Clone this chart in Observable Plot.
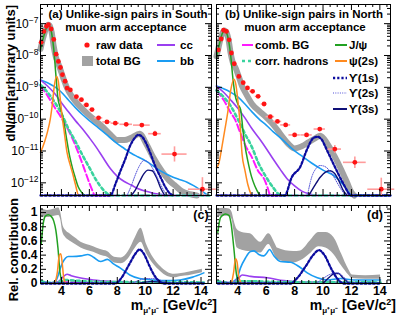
<!DOCTYPE html>
<html><head><meta charset="utf-8">
<script src="https://cdn.jsdelivr.net/npm/d3@7"></script>
<script src="https://cdn.jsdelivr.net/npm/@observablehq/plot@0.6"></script>
<style>
body{margin:0;background:#fff;}
#chart{position:relative;width:399px;height:318px;overflow:hidden;background:#fff;}
#chart svg{position:absolute;left:0;top:0;}
</style></head>
<body><div id="chart"></div>
<script>
// ---------------- DATA ----------------
// raw data, South arm (panel a)
const southMass  = [2.55,2.74,2.93,3.07,3.26,3.45,3.62,3.78,3.93,4.07,4.26,4.4,4.64,5.07,5.43,5.79,6.19,6.66,7.26,7.86,8.64,9.76,10.7,12.1,14.1];
const southYield = [2.6e-8,5.7e-8,8.3e-8,9.3e-8,6.8e-8,3.2e-8,1.1e-8,6.5e-9,4.2e-9,2.5e-9,1.55e-9,9.5e-10,8.3e-10,5.1e-10,4.1e-10,2.8e-10,2.0e-10,1.1e-10,8.2e-11,7.5e-11,6.9e-11,6.5e-11,3.5e-11,8e-12,6.3e-13];
const southBinHalf = [0.1,0.1,0.1,0.1,0.1,0.1,0.1,0.1,0.1,0.1,0.1,0.12,0.15,0.2,0.2,0.2,0.2,0.3,0.3,0.3,0.45,0.6,0.45,0.9,1.0];
const southErrLo = [2.5e-8,5.6e-8,8.2e-8,9.2e-8,6.7e-8,3.1e-8,1.05e-8,6.2e-9,4e-9,2.4e-9,1.5e-9,9.2e-10,8e-10,4.9e-10,3.9e-10,2.65e-10,1.9e-10,1.0e-10,7.5e-11,6.8e-11,6.2e-11,5.8e-11,2.9e-11,4.5e-12,1e-13];
const southErrHi = [2.7e-8,5.8e-8,8.4e-8,9.4e-8,6.9e-8,3.3e-8,1.15e-8,6.8e-9,4.4e-9,2.6e-9,1.6e-9,9.8e-10,8.6e-10,5.3e-10,4.3e-10,2.95e-10,2.1e-10,1.2e-10,8.9e-11,8.2e-11,7.6e-11,7.2e-11,4.2e-11,1.35e-11,1.45e-12];
// raw data, North arm (panel b)
const northMass  = [2.63,2.83,3.0,3.2,3.39,3.55,3.75,4.07,4.38,4.68,5.04,5.43,5.85,6.29,6.79,7.37,8.0,8.84,9.77,10.83,12.24,14.1];
const northYield = [1.5e-8,3.3e-8,6.2e-8,5.7e-8,3.1e-8,1.2e-8,5.5e-9,2.2e-9,1.4e-9,9.6e-10,7.5e-10,5.2e-10,3.0e-10,1.2e-10,8.5e-11,6.6e-11,3.2e-11,3.2e-11,4.9e-11,1.15e-11,4.4e-12,6.3e-13];
const northBinHalf = [0.1,0.1,0.1,0.1,0.1,0.1,0.1,0.15,0.15,0.15,0.2,0.2,0.2,0.3,0.3,0.35,0.4,0.4,0.4,0.47,0.8,0.95];
const northErrLo = [1.45e-8,3.2e-8,6.1e-8,5.6e-8,3.0e-8,1.15e-8,5.2e-9,2.1e-9,1.33e-9,9.1e-10,7.1e-10,4.9e-10,2.8e-10,1.1e-10,7.8e-11,6e-11,2.8e-11,2.8e-11,4.4e-11,8.5e-12,2.8e-12,1e-13];
const northErrHi = [1.55e-8,3.4e-8,6.3e-8,5.8e-8,3.2e-8,1.25e-8,5.8e-9,2.3e-9,1.47e-9,1.0e-9,7.9e-10,5.5e-10,3.2e-10,1.3e-10,9.2e-11,7.2e-11,3.6e-11,3.6e-11,5.4e-11,1.5e-11,6.5e-12,1.4e-12];

// fitted components, South (panel a)  [mass, dN/dm]
const bgSouth   = [[2.5,1.6e-8],[2.6,2.5e-8],[2.75,4.4e-8],[2.9,7.2e-8],[3.05,9.2e-8],[3.15,8.8e-8],[3.3,5.3e-8],[3.45,1.9e-8],[3.6,9e-9],[3.8,5.2e-9],[4.0,2.9e-9],[4.2,1.6e-9],[4.4,9.5e-10],[4.6,6.5e-10],[5.0,3.6e-10],[5.5,2.1e-10],[6.0,1.3e-10],[6.5,8.5e-11],[7.0,5.5e-11],[7.5,3.3e-11],[8.0,2.2e-11],[8.5,2.2e-11],[9.0,2.6e-11],[9.6,3.5e-11],[10.1,1.6e-11],[10.6,6e-12],[11.2,2.3e-12],[11.7,1.2e-12],[12.1,8.5e-13],[12.6,5.5e-13],[13.2,4.4e-13],[13.7,4e-13]];
const jpsiSouth = [[2.5,1.5e-8],[2.6,2.4e-8],[2.75,4.3e-8],[2.9,7e-8],[3.05,9e-8],[3.15,8.5e-8],[3.3,5e-8],[3.45,1.6e-8],[3.6,2.5e-9],[3.75,4.5e-10],[3.9,2.4e-10],[4.05,1.4e-10],[4.2,7e-11],[4.4,2e-11],[4.6,6.5e-12],[4.8,2.8e-12],[5.0,1.4e-12],[5.2,7.5e-13],[5.45,5e-13],[5.7,3e-13]];
const psi2sSouth = [[2.5,9e-12],[2.8,2e-11],[3.0,4e-11],[3.2,1e-10],[3.35,3e-10],[3.5,1.2e-9],[3.65,2.2e-9],[3.78,1.5e-9],[3.9,5e-10],[4.05,1.2e-10],[4.2,4e-11],[4.4,9e-12],[4.6,4e-12],[4.8,2e-12],[5.0,9e-13],[5.24,4e-13],[5.4,3e-13]];
const bbSouth   = [[2.5,1.7e-9],[3.0,1.4e-9],[3.5,1.05e-9],[4.0,7e-10],[4.5,4e-10],[5.0,2.3e-10],[5.5,1.4e-10],[6.0,9e-11],[6.5,6e-11],[7.0,4e-11],[7.5,2.6e-11],[8.0,1.7e-11],[8.5,1.2e-11],[9.0,8.5e-12],[9.5,6.5e-12],[10.0,5e-12],[10.5,3.6e-12],[11.0,2.5e-12],[11.5,1.9e-12],[12.0,1.5e-12],[12.5,1.25e-12],[13.0,1.05e-12],[13.5,8e-13],[14.0,5.8e-13],[14.4,4.3e-13]];
const ccSouth   = [[2.5,1.7e-9],[3.0,1.1e-9],[3.5,6.5e-10],[4.0,3.3e-10],[4.5,1.7e-10],[5.0,9e-11],[5.5,5e-11],[6.0,2.6e-11],[6.5,1.3e-11],[7.0,6e-12],[7.5,2.8e-12],[8.0,1.6e-12],[8.5,1.1e-12],[9.0,8.5e-13],[9.5,6.5e-13],[10.0,5.5e-13],[10.5,4.8e-13],[11.0,4.4e-13],[11.5,4.1e-13],[12,3e-13]];
const hadSouth  = [[2.5,1.2e-9],[3.0,7e-10],[3.5,3.5e-10],[4.0,1.5e-10],[4.5,5e-11],[5.0,2e-11],[5.5,7.5e-12],[6.0,3e-12],[6.5,1.2e-12],[7.0,6e-13],[7.3,4.5e-13],[7.6,3.5e-13],[14.75,3e-13]];
const combSouth = [[2.5,1.1e-9],[3.0,5.5e-10],[3.5,2.4e-10],[4.0,1.1e-10],[4.5,4.5e-11],[5.0,1.5e-11],[5.5,4e-12],[6.0,1e-12],[6.2,6e-13],[6.4,3.5e-13],[14.75,3e-13]];
const ups1South = [[2.5,3e-13],[7.5,3.5e-13],[7.9,1e-12],[8.2,2.2e-12],[8.6,6e-12],[8.9,1.4e-11],[9.2,2.4e-11],[9.5,3.2e-11],[9.7,3e-11],[10.0,2e-11],[10.36,8.7e-12],[10.7,3.5e-12],[11.07,1.6e-12],[11.4,8e-13],[11.8,4.5e-13],[12.0,3e-13]];
const ups2South = [[8.7,3e-13],[9.0,8e-13],[9.3,1.8e-12],[9.6,3.5e-12],[9.9,5e-12],[10.2,4.5e-12],[10.5,3e-12],[10.8,1.7e-12],[11.1,9e-13],[11.5,4.5e-13],[11.7,3e-13]];
const ups3South = [[9.0,3e-13],[9.3,6e-13],[9.6,1.1e-12],[9.9,1.9e-12],[10.2,2.5e-12],[10.5,2.4e-12],[10.8,1.5e-12],[11.1,7e-13],[11.4,3e-13]];

// fitted components, North (panel b)
const bgNorth   = [[2.5,9.5e-9],[2.6,1.45e-8],[2.75,2.9e-8],[2.9,4.9e-8],[3.05,6.1e-8],[3.2,5.3e-8],[3.35,3.1e-8],[3.5,1.15e-8],[3.65,6e-9],[3.85,4e-9],[4.05,2.3e-9],[4.3,1.1e-9],[4.6,6e-10],[5.0,3e-10],[5.5,1.8e-10],[6.0,1.15e-10],[6.4,7.5e-11],[6.8,4.5e-11],[7.2,2.6e-11],[7.6,1.6e-11],[8.0,1.2e-11],[8.5,1.4e-11],[9.0,1.9e-11],[9.5,2.6e-11],[9.8,3e-11],[10.3,1.7e-11],[10.8,7e-12],[11.3,2.5e-12],[11.7,1e-12],[12.0,5e-13],[12.2,4e-13]];
const jpsiNorth = [[2.5,9e-9],[2.6,1.4e-8],[2.75,2.8e-8],[2.9,4.8e-8],[3.05,6e-8],[3.2,5.2e-8],[3.35,3e-8],[3.5,1e-8],[3.65,2e-9],[3.8,6e-10],[4.0,3e-10],[4.2,2e-10],[4.35,5e-11],[4.5,1.5e-11],[4.7,5e-12],[4.96,1.6e-12],[5.2,8e-13],[5.55,3e-13]];
const psi2sNorth = [[2.5,3e-12],[2.66,4e-12],[2.9,1.5e-11],[3.1,5e-11],[3.32,2e-10],[3.5,8e-10],[3.72,1.8e-9],[3.85,1.3e-9],[4.0,4e-10],[4.15,8e-11],[4.3,8e-12],[4.5,2.5e-12],[4.7,9e-13],[4.96,3e-13]];
const bbNorth   = [[2.5,1.1e-9],[3.0,9e-10],[3.5,7e-10],[4.0,5e-10],[4.5,3e-10],[5.0,1.7e-10],[5.5,1e-10],[6.0,6.5e-11],[6.5,4e-11],[7.0,2.6e-11],[7.5,1.6e-11],[7.9,1.1e-11],[8.5,7e-12],[9.19,4.2e-12],[10.0,2.5e-12],[10.83,1.6e-12],[11.3,1e-12],[11.7,6e-13],[12.0,3e-13],[14.75,3e-13]];
const ccNorth   = [[2.5,1.1e-9],[3.0,7e-10],[3.5,4e-10],[4.0,2.2e-10],[4.5,1.1e-10],[5.0,5e-11],[5.5,2.5e-11],[6.0,1.2e-11],[6.5,5.5e-12],[7.0,2.6e-12],[7.5,1.3e-12],[8.0,8e-13],[8.5,5.5e-13],[9.0,4.5e-13],[9.5,3e-13]];
const hadNorth  = [[2.5,8e-10],[3.0,5e-10],[3.5,2.6e-10],[4.0,1e-10],[4.5,3.5e-11],[5.0,1.3e-11],[5.44,4.3e-12],[6.0,1.5e-12],[6.5,7e-13],[6.85,4.5e-13],[7.2,3e-13],[14.75,3e-13]];
const combNorth = [[2.5,8e-10],[3.0,4e-10],[3.5,1.6e-10],[3.79,1e-10],[4.2,3.5e-11],[4.6,1.3e-11],[4.96,6.8e-12],[5.4,2.5e-12],[5.9,1.2e-12],[6.1,7e-13],[6.3,3e-13],[14.75,3e-13]];
const ups1North = [[2.5,3e-13],[7.3,3.5e-13],[7.8,1.5e-12],[8.4,3.2e-12],[8.9,1.2e-11],[9.34,2.6e-11],[9.6,2.8e-11],[9.9,2.3e-11],[10.3,1e-11],[10.83,3.2e-12],[11.4,1e-12],[12.0,3e-13],[14.75,3e-13]];
const ups2North = [[8.9,3e-13],[9.2,1.5e-12],[9.5,2.8e-12],[9.8,3.5e-12],[10.1,3.3e-12],[10.4,2.6e-12],[10.7,1.7e-12],[11.0,1e-12],[11.3,6e-13],[11.6,3e-13]];
const ups3North = [[9.0,3e-13],[9.4,8e-13],[9.8,1.5e-12],[10.2,2.2e-12],[10.5,2.4e-12],[10.8,2e-12],[11.1,1.2e-12],[11.4,6e-13],[11.7,3e-13]];

// relative contributions, South (panel c)  [mass, fraction]  band: [mass, low, high]
const relBgSouth = [[2.55,0.95,1.06],[3.0,0.93,1.03],[3.5,0.95,1.05],[3.8,0.96,1.07],[3.95,0.9,1.0],[4.1,0.72,0.83],[4.3,0.65,0.75],[4.6,0.6,0.7],[5.0,0.55,0.64],[5.4,0.5,0.58],[5.8,0.47,0.55],[6.3,0.44,0.52],[6.8,0.4,0.48],[7.3,0.37,0.45],[7.8,0.29,0.37],[8.3,0.28,0.36],[8.8,0.35,0.45],[9.3,0.5,0.65],[9.7,0.58,0.78],[10.1,0.42,0.55],[10.6,0.27,0.36],[11.1,0.17,0.24],[11.6,0.1,0.16],[12.1,0.08,0.13],[12.6,0.1,0.14],[13.1,0.11,0.16],[13.6,0.13,0.18],[14.1,0.15,0.2]];
const relJpsiSouth = [[2.55,0.55],[2.7,0.85],[2.85,0.95],[3.05,0.97],[3.25,0.95],[3.45,0.88],[3.6,0.75],[3.75,0.5],[3.9,0.15],[4.05,0.03],[4.2,0.0]];
const relPsi2sSouth = [[3.35,0],[3.55,0.03],[3.7,0.15],[3.85,0.4],[3.95,0.42],[4.05,0.3],[4.15,0.1],[4.25,0.02],[4.4,0]];
const relBbSouth = [[2.55,0.04],[2.8,0.02],[3.2,0.01],[3.5,0.02],[3.7,0.08],[3.93,0.22],[4.1,0.3],[4.3,0.36],[4.5,0.38],[4.8,0.38],[5.4,0.39],[5.9,0.41],[6.3,0.37],[6.8,0.31],[7.3,0.34],[7.7,0.28],[8.2,0.22],[8.9,0.12],[9.6,0.07],[10.6,0.05],[11.5,0.04],[12.5,0.05],[13.4,0.09],[14.2,0.15]];
const relCcSouth = [[2.55,0.02],[3.3,0.005],[3.8,0.03],[4.1,0.09],[4.4,0.13],[4.7,0.11],[5.3,0.08],[6.3,0.05],[7.5,0.03],[8.5,0.02],[10,0.01],[14.2,0.01]];
const relHadSouth = [[2.55,0.03],[3.2,0.01],[3.8,0.02],[4.3,0.05],[5.0,0.04],[6,0.03],[8,0.02],[14.2,0.015]];
const relCombSouth = [[2.55,0.02],[3.2,0.005],[4.2,0.02],[6,0.01],[14.2,0.008]];
const relUps1South = [[2.55,0],[7.86,0],[8.3,0.08],[8.8,0.25],[9.3,0.42],[9.6,0.48],[9.9,0.42],[10.3,0.25],[10.7,0.1],[11.1,0.02],[11.3,0],[14.2,0]];
const relUps2South = [[9.0,0],[9.5,0.04],[10.0,0.07],[10.5,0.07],[11.0,0.05],[11.5,0.02],[12,0]];
const relUps3South = [[9.5,0],[10.0,0.02],[10.5,0.03],[11.0,0.02],[11.5,0.005]];

// relative contributions, North (panel d)
const relBgNorth = [[2.59,0.95,1.05],[3.0,0.95,1.06],[3.4,0.95,1.05],[3.6,0.9,1.0],[3.72,0.75,0.9],[3.96,0.5,0.76],[4.3,0.47,0.72],[4.89,0.45,0.7],[5.6,0.43,0.58],[6.18,0.55,0.7],[6.65,0.38,0.55],[6.78,0.34,0.5],[7.94,0.29,0.45],[8.42,0.32,0.46],[9.1,0.42,0.6],[9.7,0.52,0.72],[10.2,0.5,0.72],[10.76,0.41,0.65],[11.3,0.25,0.42],[11.8,0.12,0.2],[12.05,0.07,0.12],[13,0.06,0.11],[14.05,0.06,0.12]];
const relJpsiNorth = [[2.59,0.72],[2.78,0.93],[3.0,0.97],[3.13,0.98],[3.37,0.96],[3.53,0.84],[3.72,0.5],[3.91,0.12],[4.07,0.0]];
const relPsi2sNorth = [[3.55,0],[3.7,0.15],[3.84,0.35],[3.95,0.3],[4.05,0.12],[4.2,0.02],[4.3,0]];
const relBbNorth = [[2.59,0.03],[3.3,0.01],[3.7,0.03],[3.96,0.08],[4.19,0.22],[4.54,0.36],[4.89,0.45],[5.13,0.46],[5.48,0.41],[5.83,0.39],[6.0,0.42],[6.23,0.48],[6.54,0.39],[7.0,0.31],[7.7,0.3],[8.3,0.24],[8.89,0.15],[9.6,0.08],[10.3,0.05],[11.23,0.07],[12.17,0.05],[14.05,0.05]];
const relCcNorth = [[2.59,0.03],[3.6,0.01],[4.07,0.08],[4.31,0.12],[4.9,0.1],[6.07,0.08],[7.24,0.04],[8.5,0.02],[14.05,0.01]];
const relHadNorth = [[2.59,0.03],[3.4,0.01],[4.2,0.03],[5.0,0.03],[7,0.02],[14.05,0.015]];
const relCombNorth = [[2.59,0.02],[3.4,0.005],[4.2,0.02],[6,0.01],[14.05,0.008]];
const relUps1North = [[2.59,0],[7.7,0],[8.2,0.08],[8.8,0.25],[9.3,0.4],[9.7,0.47],[10.1,0.4],[10.6,0.2],[11.0,0.07],[11.46,0],[14.05,0]];
const relUps2North = [[9.5,0],[10.0,0.07],[10.5,0.13],[11.0,0.15],[11.4,0.1],[11.8,0.02],[12.0,0]];
const relUps3North = [[10.0,0],[10.4,0.08],[10.8,0.14],[11.1,0.14],[11.4,0.08],[11.8,0.01]];

// axis ticks / labels
const massTicks = [4,6,8,10,12,14];
const decadeTicks = [1e-12,1e-11,1e-10,1e-9,1e-8,1e-7];
const fracTicks = [0,0.2,0.4,0.6,0.8,1];

// ---------------- LAYOUT ----------------
const W = 399, H = 318;
const FONT = '"Liberation Sans", Arial, Helvetica, sans-serif';
const XDOM = [2.5, 14.75], LOGDOM = [4e-13, 4e-7], FRACDOM = [0, 1.1];
const FR = {a:{l:40,r:211,t:4,b:195}, b:{l:216,r:390,t:4,b:195}, c:{l:40,r:211,t:205,b:283}, d:{l:216,r:390,t:205,b:283}};
const COL = {jpsi:"#22a122", psi2s:"#ff8a1f", cc:"#9a3ff0", bb:"#1a9cf2", comb:"#ff1aff", had:"#3ad39e", ups1:"#0c0c9e", ups2:"#5050d8", ups3:"#101078", data:"#ff1414", err:"#ff9c9c", bg:"#a2a2a2"};
const PX = d => d[0], PY = d => d[1];

function minorLog() {
  const out = [];
  for (let e = -13; e <= -7; e++) for (let k = 2; k <= 9; k++) { const v = k * Math.pow(10, e); if (v > LOGDOM[0] && v < LOGDOM[1]) out.push(v); }
  return out;
}
function ticksMarks(fr, yMajor, yMinor, xMajor, xMinor) {
  const w = fr.r - fr.l, h = fr.b - fr.t, L = 6, l = 3;
  const o = {stroke: "black", strokeWidth: 1};
  return [
    Plot.tickY(yMajor, {y: d => d, insetRight: w - L, ...o}),
    Plot.tickY(yMajor, {y: d => d, insetLeft: w - L, ...o}),
    Plot.tickY(yMinor, {y: d => d, insetRight: w - l, ...o}),
    Plot.tickY(yMinor, {y: d => d, insetLeft: w - l, ...o}),
    Plot.tickX(xMajor, {x: d => d, insetTop: h - L, ...o}),
    Plot.tickX(xMajor, {x: d => d, insetBottom: h - L, ...o}),
    Plot.tickX(xMinor, {x: d => d, insetTop: h - l, ...o}),
    Plot.tickX(xMinor, {x: d => d, insetBottom: h - l, ...o})
  ];
}
const xMinorTicks = d3.range(3, 14.75, 0.5).filter(v => v % 2 !== 0);
const fracMinor = d3.range(0.05, 1.1, 0.05).filter(v => Math.abs(v * 5 - Math.round(v * 5)) > 1e-6);

function lineMarks(S) {
  const m = {x: PX, y: PY, curve: "monotone-x"};
  return [
    Plot.line(S.bb, {...m, stroke: COL.bb, strokeWidth: 1.6}),
    Plot.line(S.cc, {...m, stroke: COL.cc, strokeWidth: 1.6}),
    Plot.line(S.comb, {...m, stroke: COL.comb, strokeWidth: 2, strokeDasharray: "7,3"}),
    Plot.line(S.had, {...m, stroke: COL.had, strokeWidth: 2.6, strokeDasharray: "3,3"}),
    Plot.line(S.jpsi, {...m, stroke: COL.jpsi, strokeWidth: 1.5}),
    Plot.line(S.psi2s, {...m, stroke: COL.psi2s, strokeWidth: 1.5}),
    Plot.line(S.ups3, {...m, stroke: COL.ups3, strokeWidth: 1.4}),
    Plot.line(S.ups2, {...m, stroke: COL.ups2, strokeWidth: 1, strokeDasharray: "1,1.3"}),
    Plot.line(S.ups1, {...m, stroke: COL.ups1, strokeWidth: 2.3, strokeDasharray: "2.2,2"})
  ];
}

function basePlot(fr, y, marks, xAxisNull) {
  return Plot.plot({
    width: W, height: H,
    marginLeft: fr.l, marginRight: W - fr.r, marginTop: fr.t, marginBottom: H - fr.b,
    x: xAxisNull ? {domain: XDOM, axis: null} : {domain: XDOM},
    y,
    style: {background: "transparent", fontFamily: FONT, fontSize: "12px", color: "black", overflow: "visible"},
    marks
  });
}

function topPanel(fr, S, D, withLabels) {
  const rows = D.mass.map((m, i) => ({m, v: D.y[i], dx: D.half[i], lo: D.lo[i], hi: D.hi[i]}));
  const marks = [
    Plot.line(S.bg, {x: PX, y: PY, stroke: COL.bg, strokeWidth: 6, curve: "monotone-x"}),
    ...lineMarks(S),
    Plot.ruleY(rows, {y: "v", x1: d => d.m - d.dx, x2: d => d.m + d.dx, stroke: COL.err, strokeWidth: 1.6}),
    Plot.ruleX(rows, {x: "m", y1: "lo", y2: "hi", stroke: COL.err, strokeWidth: 1.6}),
    Plot.dot(rows, {x: "m", y: "v", r: 2.4, fill: COL.data}),
    ...ticksMarks(fr, decadeTicks, minorLog(), massTicks, xMinorTicks),
    Plot.frame({stroke: "black", strokeWidth: 1})
  ];
  if (withLabels) marks.push(Plot.axisY(decadeTicks, {tickSize: 0, tickPadding: 2, fontSize: 12, tickFormat: d => "10^" + Math.round(Math.log10(d))}));
  const y = {type: "log", domain: LOGDOM, clamp: true};
  if (!withLabels) y.axis = null;
  return basePlot(fr, y, marks, true);
}

function bottomPanel(fr, R, withLabels) {
  const marks = [
    Plot.areaY(R.bg, {x: d => d[0], y1: d => d[1], y2: d => d[2], fill: COL.bg, curve: "monotone-x"}),
    ...lineMarks(R),
    ...ticksMarks(fr, fracTicks, fracMinor, massTicks, xMinorTicks),
    Plot.frame({stroke: "black", strokeWidth: 1}),
    Plot.axisX(massTicks, {tickSize: 0, tickPadding: 3, fontSize: 12.5, fontWeight: "bold"})
  ];
  if (withLabels) marks.push(Plot.axisY(fracTicks, {tickSize: 0, tickPadding: 3, fontSize: 12, fontWeight: "bold", tickFormat: d => String(+d.toFixed(1))}));
  const y = {domain: FRACDOM, clamp: true};
  if (!withLabels) y.axis = null;
  return basePlot(fr, y, marks, false);
}

const root = document.getElementById("chart");
const South = {bg: bgSouth, jpsi: jpsiSouth, psi2s: psi2sSouth, bb: bbSouth, cc: ccSouth, had: hadSouth, comb: combSouth, ups1: ups1South, ups2: ups2South, ups3: ups3South};
const North = {bg: bgNorth, jpsi: jpsiNorth, psi2s: psi2sNorth, bb: bbNorth, cc: ccNorth, had: hadNorth, comb: combNorth, ups1: ups1North, ups2: ups2North, ups3: ups3North};
const RelS = {bg: relBgSouth, jpsi: relJpsiSouth, psi2s: relPsi2sSouth, bb: relBbSouth, cc: relCcSouth, had: relHadSouth, comb: relCombSouth, ups1: relUps1South, ups2: relUps2South, ups3: relUps3South};
const RelN = {bg: relBgNorth, jpsi: relJpsiNorth, psi2s: relPsi2sNorth, bb: relBbNorth, cc: relCcNorth, had: relHadNorth, comb: relCombNorth, ups1: relUps1North, ups2: relUps2North, ups3: relUps3North};

const pa = topPanel(FR.a, South, {mass: southMass, y: southYield, half: southBinHalf, lo: southErrLo, hi: southErrHi}, true);
const pb = topPanel(FR.b, North, {mass: northMass, y: northYield, half: northBinHalf, lo: northErrLo, hi: northErrHi}, false);
const pc = bottomPanel(FR.c, RelS, true);
const pd = bottomPanel(FR.d, RelN, false);
[pa, pb, pc, pd].forEach(p => root.appendChild(p));

// superscript exponents on the log axis labels
pa.querySelectorAll('g[aria-label="y-axis tick label"] text').forEach(t => {
  const s = t.textContent; if (!s.includes("^")) return;
  const [base, ex] = s.split("^");
  t.textContent = base;
  const ts = document.createElementNS("http://www.w3.org/2000/svg", "tspan");
  ts.setAttribute("font-size", "8.5"); ts.setAttribute("dy", "-0.55em");
  ts.textContent = ex.replace("-", "\u2212");
  t.appendChild(ts);
});

// ---------------- OVERLAY TEXT / LEGENDS ----------------
const ov = d3.select(root).append("svg").attr("width", W).attr("height", H).style("font-family", FONT);
function txt(x, y, s, o = {}) {
  const t = ov.append("text").attr("x", x).attr("y", y).attr("font-size", o.size || 11.5)
    .attr("font-weight", o.weight || "bold").attr("text-anchor", o.anchor || "start").attr("fill", "black").text(s);
  if (o.rot) t.attr("transform", `rotate(-90 ${x} ${y})`);
  return t;
}
function sw(x1, x2, y, color, width, dash) {
  ov.append("line").attr("x1", x1).attr("x2", x2).attr("y1", y).attr("y2", y).attr("stroke", color).attr("stroke-width", width).attr("stroke-dasharray", dash || null);
}
// titles
txt(128, 18, "(a) Unlike-sign pairs in South", {anchor: "middle"});
txt(126, 31, "muon arm acceptance", {anchor: "middle"});
txt(304, 18, "(b) Unlike-sign pairs in North", {anchor: "middle"});
txt(305, 31, "muon arm acceptance", {anchor: "middle"});
// legend a
ov.append("circle").attr("cx", 87).attr("cy", 45).attr("r", 2.6).attr("fill", COL.data);
txt(96, 49, "raw data");
ov.append("rect").attr("x", 82).attr("y", 56).attr("width", 11).attr("height", 10).attr("fill", COL.bg);
txt(96, 65, "total BG");
sw(157, 175, 45, COL.cc, 2); txt(180, 49, "cc");
sw(157, 175, 61, COL.bb, 2); txt(180, 65, "bb");
// legend b
sw(242, 253, 45, COL.comb, 2); txt(255, 49, "comb. BG");
sw(242, 253, 61, COL.had, 2.6, "3,3"); txt(255, 65, "corr. hadrons");
sw(335, 347, 45, COL.jpsi, 2); txt(349, 49, "J/\u03c8");
sw(335, 347, 61, COL.psi2s, 2); txt(349, 65, "\u03c8(2s)");
sw(333, 347, 78, COL.ups1, 2.3, "2.2,2"); txt(349, 82, "\u03d2(1s)");
sw(333, 347, 93, COL.ups2, 1.2, "1,1.3"); txt(349, 97, "\u03d2(2s)");
sw(333, 347, 109, COL.ups3, 2); txt(349, 113, "\u03d2(3s)");
// panel tags
txt(201, 219, "(c)", {anchor: "middle", size: 12.5});
txt(375, 219, "(d)", {anchor: "middle", size: 12.5});
// axis titles
txt(15, 5, "dN/dm[arbitrary units]", {rot: true, anchor: "end", size: 13});
txt(18, 198, "Rel. contribution", {rot: true, anchor: "end", size: 13});
function massTitle(xEnd) {
  const t = ov.append("text").attr("x", xEnd).attr("y", 310).attr("text-anchor", "end").attr("font-size", 14).attr("font-weight", "bold");
  t.append("tspan").text("m");
  t.append("tspan").attr("font-size", 8).attr("dy", 3).text("\u03bc\u207a\u03bc\u207b");
  t.append("tspan").attr("dy", -3).text(" [GeV/c");
  t.append("tspan").attr("font-size", 9).attr("dy", -5).text("2");
  t.append("tspan").attr("dy", 5).text("]");
}
massTitle(217);
massTitle(396);
</script></body></html>
